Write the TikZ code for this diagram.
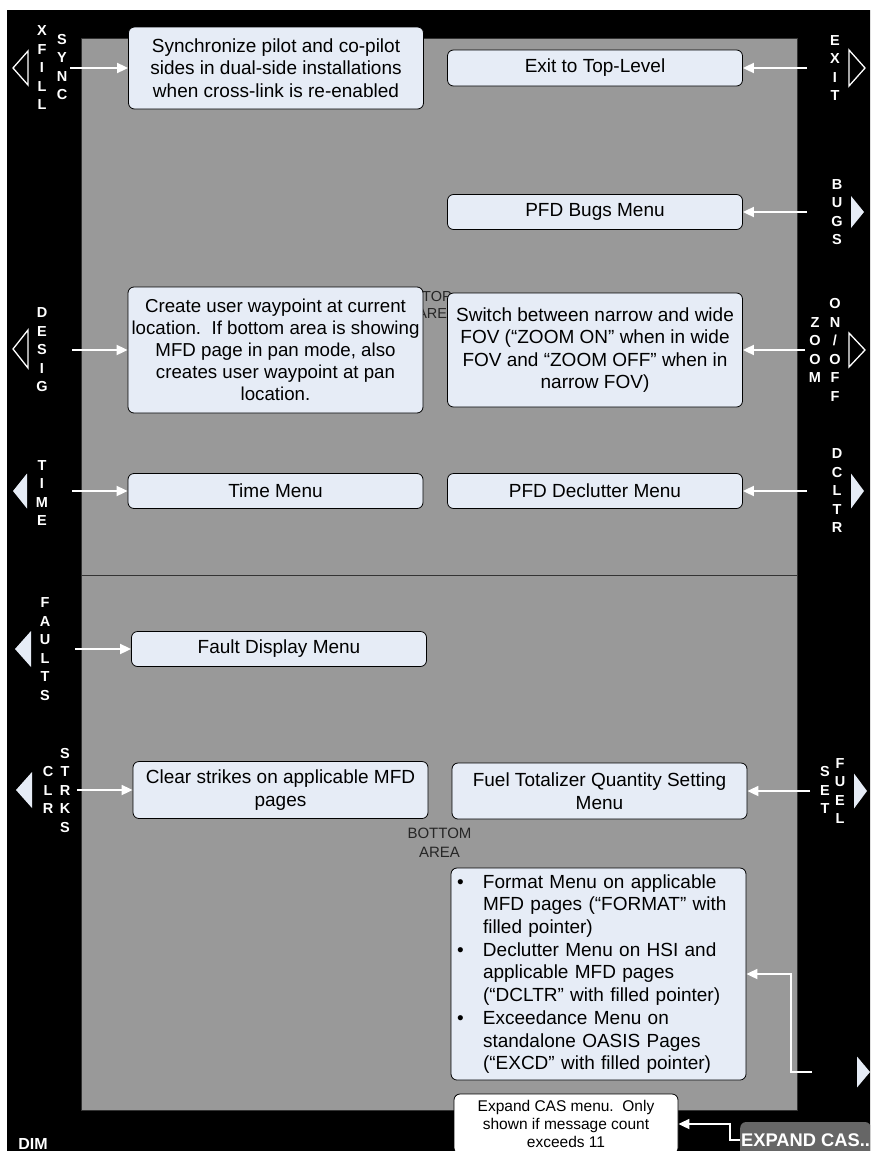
\documentclass[tikz,border=0pt]{standalone}
\usepackage{fontspec}
\setmainfont{Liberation Sans}
\usetikzlibrary{arrows.meta}
\definecolor{panel}{HTML}{999999}
\definecolor{boxfill}{HTML}{E6ECF6}
\definecolor{btngray}{HTML}{666666}
\newcommand\bitem{\makebox[26pt][l]{•}}
\newcommand\bgap{\hspace*{26pt}}
\begin{document}
\begin{tikzpicture}[x=1pt,y=-1pt,
 menubox/.style={draw=black,line width=.8pt,rounded corners=6pt,fill=boxfill,align=center,inner sep=0pt,minimum width=295pt,font=\fontsize{19}{22.5}\selectfont},
 keylbl/.style={text=white,align=center,inner sep=0pt,font=\bfseries\fontsize{14.5}{18.5}\selectfont},
 arealbl/.style={text=black!85,align=center,inner sep=0pt},
 feed/.style={draw=white,line width=1.8pt,-{Triangle[length=11pt,width=10pt]}},
 hollowptr/.style={draw=white,line width=1.3pt,fill=black},
 filledptr/.style={fill=boxfill}]
 \useasboundingbox (0,0) rectangle (870,1151);
 \clip (0,0) rectangle (870,1151);
 \fill[black] (7,10) rectangle (880,1160);
 \filldraw[fill=panel,draw=black!80,line width=.8pt] (81,38) rectangle (797,1110);
 \draw[black!80,line width=1pt] (81,575) -- (797,575);
 \node[arealbl,font=\fontsize{14.5}{17}\selectfont] (toparea) at (437,305) {TOP\\AREA};
 \node[arealbl,font=\fontsize{15}{19}\selectfont] (botarea) at (439.5,843) {BOTTOM\\AREA};
 % soft keys
 \foreach \x/\y/\d/\h in {28/68/-15/17,28/349/-15/19,849/68/16/18,849/350/16/17}{\filldraw[hollowptr] (\x,\y-\h) -- ++(\d,\h) -- ++(-\d,\h) -- cycle;}
 \foreach \x/\y/\d/\h in {27/491/-14/17.5,31/649/-16/18,32/790/-16/18,851/212/13/16,851/491/13/17.5,854/791/13/17.5,857/1072/13/15.5}{\fill[filledptr] (\x,\y-\h) -- ++(\d,\h) -- ++(-\d,\h) -- cycle;}
 \foreach \n/\x/\y/\t in {kxfill/42/68/{X\\F\\I\\L\\L},ksync/62/67/{S\\Y\\N\\C},kexit/835/68/{E\\X\\I\\T},kbugs/837/212/{B\\U\\G\\S},kdesig/42/350/{D\\E\\S\\I\\G},kzoom/815/350/{Z\\O\\O\\M},konoff/835/350/{O\\N\\/\\O\\F\\F},ktime/42/493/{T\\I\\M\\E},kdcltr/837/491/{D\\C\\L\\T\\R},kfaults/45/649/{F\\A\\U\\L\\T\\S},kclr/48/790/{C\\L\\R},kstrks/65/790/{S\\T\\R\\K\\S},kset/825/790/{S\\E\\T},kfuel/840/791/{F\\U\\E\\L}}{\node[keylbl] (\n) at (\x,\y) {\t};}
 \node[keylbl,font=\bfseries\fontsize{16}{16}\selectfont] (kdim) at (33,1144) {DIM};
 % menu boxes
 \node[menubox,minimum height=82pt] (sync) at (276,68) {Synchronize pilot and co-pilot\\sides in dual-side installations\\when cross-link is re-enabled};
 \node[menubox,minimum height=36pt] (exit) at (595,68) {Exit to Top-Level};
 \node[menubox,minimum height=35pt] (bugs) at (595,212) {PFD Bugs Menu};
 \node[menubox,minimum height=126pt,font=\fontsize{18.7}{22}\selectfont] (desig) at (275.5,350) {Create user waypoint at current\\location.\ \ If bottom area is showing\\MFD page in pan mode, also\\creates user waypoint at pan\\location.};
 \node[menubox,minimum height=114pt] (zoom) at (595,350) {Switch between narrow and wide\\FOV (“ZOOM ON” when in wide\\FOV and “ZOOM OFF” when in\\narrow FOV)};
 \node[menubox,minimum height=35pt] (time) at (275.5,491) {Time Menu};
 \node[menubox,minimum height=35pt] (dcltr) at (595,491) {PFD Declutter Menu};
 \node[menubox,minimum height=35pt] (faults) at (279,649) {Fault Display Menu};
 \node[menubox,minimum height=57pt] (clr) at (280.5,790) {Clear strikes on applicable MFD\\pages};
 \node[menubox,minimum height=56pt] (fuel) at (599.5,791) {Fuel Totalizer Quantity Setting\\Menu};
 \node[menubox,align=left,text width=283pt,minimum width=0pt,inner xsep=6pt,minimum height=212pt,font=\fontsize{19}{22.7}\selectfont] (bul) at (598.5,974) {\bitem Format Menu on applicable\\\bgap MFD pages (“FORMAT” with\\\bgap filled pointer)\\\bitem Declutter Menu on HSI and\\\bgap applicable MFD pages\\\bgap (“DCLTR” with filled pointer)\\\bitem Exceedance Menu on\\\bgap standalone OASIS Pages\\\bgap (“EXCD” with filled pointer)};
 \node[menubox,fill=white,minimum width=224pt,minimum height=60pt,font=\fontsize{15.5}{18}\selectfont] (cas) at (566,1124) {Expand CAS menu.\ \ Only\\shown if message count\\exceeds 11};
 \node[fill=btngray,rounded corners=6pt,text=white,anchor=west,minimum height=36pt,inner xsep=1pt,inner ysep=0pt,font=\bfseries\fontsize{18.3}{18.3}\selectfont] (casbtn) at (740,1140) {EXPAND CAS..};
 % connectors
 \coordinate (psync) at (70,68); \coordinate (pexit) at (807,68); \coordinate (pbugs) at (807,212);
 \coordinate (pdesig) at (72,350); \coordinate (pzoom) at (805,350); \coordinate (ptime) at (72,491);
 \coordinate (pdcltr) at (807,491); \coordinate (pfaults) at (75,649); \coordinate (pclr) at (77,790);
 \coordinate (pfuel) at (810,791); \coordinate (pmore) at (812,1072);
 \foreach \p/\b in {psync/sync,pexit/exit,pbugs/bugs,pdesig/desig,pzoom/zoom,ptime/time,pdcltr/dcltr,pfaults/faults,pclr/clr,pfuel/fuel}{\draw[feed] (\p) -- (\b);}
 \draw[feed] (pmore) -- ++(-21,0) |- (bul.east);
 \draw[feed] (casbtn.west) -- ++(-10,0) |- (cas.east);
\end{tikzpicture}
\end{document}
